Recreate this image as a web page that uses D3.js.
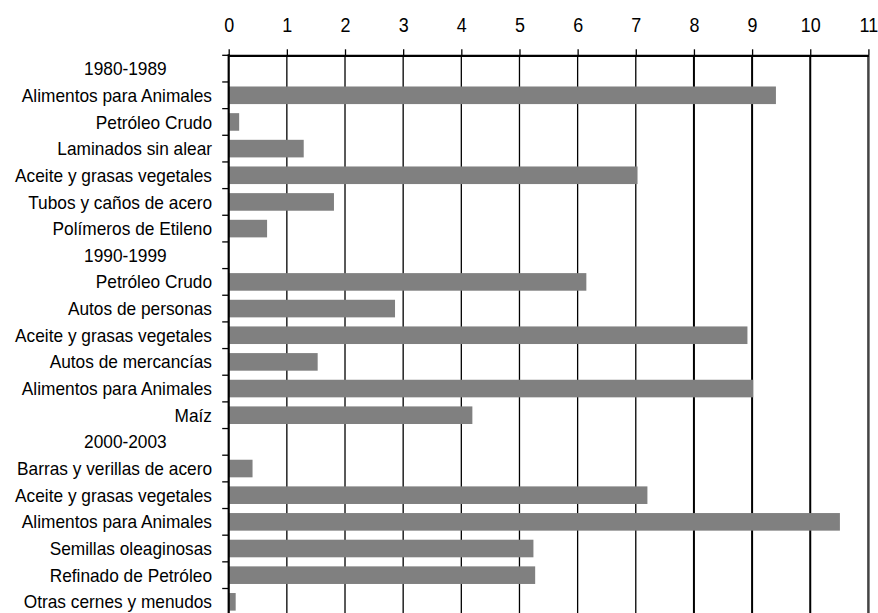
<!DOCTYPE html>
<html>
<head>
<meta charset="utf-8">
<script src="https://cdn.jsdelivr.net/npm/d3@7"></script>
<style>
	body { margin: 0; background: #fff; }
	svg { display: block; font-family: "Liberation Sans", Arial, sans-serif; }
	.axis text { fill: #000; }
</style>
</head>
<body>
<svg id="chart"></svg>
<script>
// categories top to bottom (period rows have no bar)
const categories = [
	'1980-1989',
	'Alimentos para Animales',
	'Petróleo Crudo',
	'Laminados sin alear',
	'Aceite y grasas vegetales',
	'Tubos y caños de acero',
	'Polímeros de Etileno',
	'1990-1999',
	'Petróleo Crudo ',
	'Autos de personas',
	'Aceite y grasas vegetales ',
	'Autos de mercancías',
	'Alimentos para Animales ',
	'Maíz',
	'2000-2003',
	'Barras y verillas de acero',
	'Aceite y grasas vegetales  ',
	'Alimentos para Animales  ',
	'Semillas oleaginosas',
	'Refinado de Petróleo',
	'Otras cernes y menudos'
];
const values = [
	null, 9.41, 0.18, 1.29, 7.03, 1.81, 0.66,
	null, 6.15, 2.86, 8.92, 1.53, 9.02, 4.19,
	null, 0.41, 7.20, 10.51, 5.24, 5.27, 0.12
];
const periods = ['1980-1989', '1990-1999', '2000-2003'];
const xTicks = [0, 1, 2, 3, 4, 5, 6, 7, 8, 9, 10, 11];

const data = categories.map((c, i) => ({cat: c, value: values[i]}));

// dimensions
const W = 878, H = 613;
const margin = {top: 55.3, left: 228.7};
const width = 639.7;
const height = 26.66 * categories.length;
const squeeze = 0.92; // the original text is a bit narrow

const $svg = d3.select('#chart').attr('width', W).attr('height', H);
const $vis = $svg.append('g')
	.attr('transform', 'translate(' + margin.left + ',' + margin.top + ')');

// scales
const scaleX = d3.scaleLinear()
	.domain([0, 11])
	.range([0, width]);

const scaleY = d3.scaleBand()
	.domain(categories)
	.range([0, height])
	.paddingInner(0.34)
	.paddingOuter(0.17);

// vertical gridlines (the right ones are drawn heavier in the original)
$vis.append('g')
	.selectAll('line')
	.data(xTicks.filter(d => d > 0 && d < 11))
	.enter()
	.append('line')
	.attr('x1', d => scaleX(d))
	.attr('x2', d => scaleX(d))
	.attr('y1', 0)
	.attr('y2', height)
	.attr('stroke', '#000')
	.attr('stroke-width', d => d >= 8 ? 2 : 1.3);

// bars
$vis.append('g')
	.selectAll('rect')
	.data(data.filter(d => d.value !== null))
	.enter()
	.append('rect')
	.attr('x', scaleX(0))
	.attr('y', d => scaleY(d.cat))
	.attr('width', d => scaleX(d.value) - scaleX(0))
	.attr('height', scaleY.bandwidth())
	.attr('fill', '#808080');

// right border
$vis.append('line')
	.attr('x1', scaleX(11))
	.attr('x2', scaleX(11))
	.attr('y1', 0)
	.attr('y2', height)
	.attr('stroke', '#444')
	.attr('stroke-width', 2.5);

// top axis
const $top = $vis.append('g')
	.attr('class', 'axis axis--x')
	.call(d3.axisTop(scaleX).tickValues(xTicks).tickSize(6).tickPadding(17.6).tickSizeOuter(0));
$top.select('.domain').attr('stroke', '#000').attr('stroke-width', 2.2);
$top.selectAll('.tick line').attr('stroke', '#000').attr('stroke-width', 1.3);
$top.selectAll('text')
	.style('font-size', '19.5px')
	.attr('transform', 'scale(' + squeeze + ',1)');

// left axis: labels centred on bands, ticks on band boundaries
const $left = $vis.append('g')
	.attr('class', 'axis axis--y')
	.call(d3.axisLeft(scaleY).tickSize(0).tickPadding(16.7));
$left.select('.domain').remove();
$left.selectAll('text')
	.style('font-size', '18.8px')
	.attr('dy', '0.35em')
	.attr('transform', 'scale(' + squeeze + ',1)')
	.attr('x', d => (periods.includes(d) ? -62 : -16.7) / squeeze);

const bounds = d3.range(categories.length + 1).map(i => i * scaleY.step());
$vis.append('g')
	.selectAll('line')
	.data(bounds)
	.enter()
	.append('line')
	.attr('x1', -6.5)
	.attr('x2', 0)
	.attr('y1', d => d)
	.attr('y2', d => d)
	.attr('stroke', '#000')
	.attr('stroke-width', 1.3);

$vis.append('line')
	.attr('x1', 0)
	.attr('x2', 0)
	.attr('y1', -1)
	.attr('y2', height)
	.attr('stroke', '#000')
	.attr('stroke-width', 2.2);
</script>
</body>
</html>
